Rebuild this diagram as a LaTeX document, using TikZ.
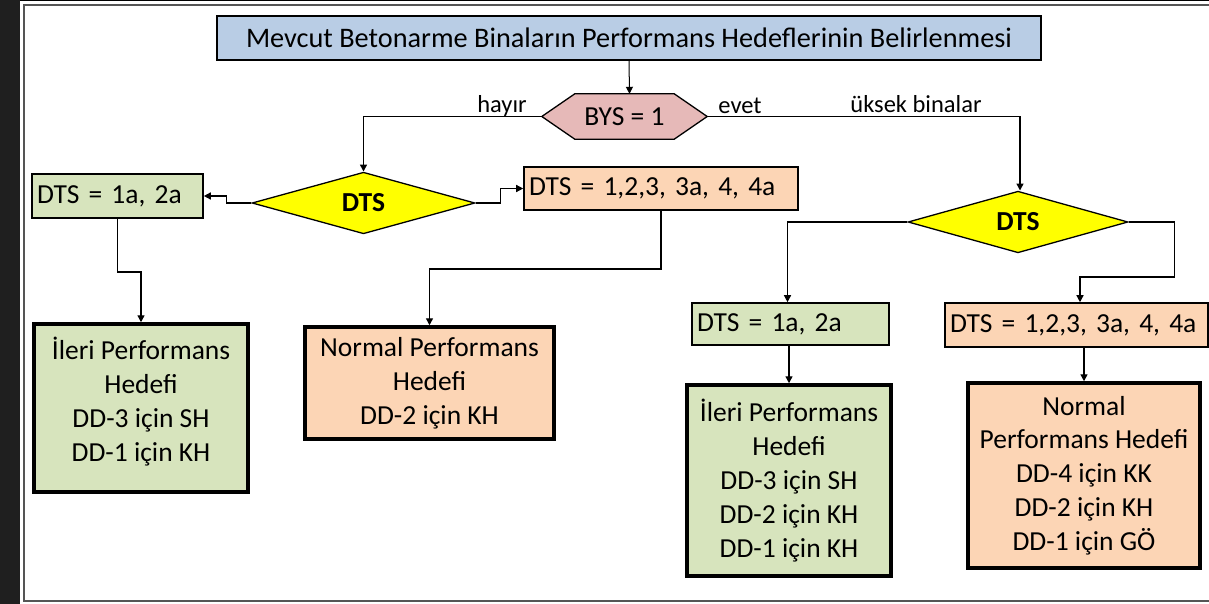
\documentclass[tikz,border=0pt]{standalone}
\usepackage{fontspec}
\setmainfont{Carlito}
\usetikzlibrary{arrows.meta,shapes.geometric,backgrounds}
\definecolor{tblue}{HTML}{B9CDE5}
\definecolor{bpink}{HTML}{E6B9B8}
\definecolor{dyellow}{HTML}{FFFF00}
\definecolor{lgreen}{HTML}{D7E4BD}
\definecolor{lorange}{HTML}{FCD5B5}
\definecolor{stripdark}{HTML}{1F1F1F}
\definecolor{framegray}{HTML}{555555}
\newcommand{\fsbox}{\fontsize{27.5}{33.8}\selectfont}
\newcommand{\fslbl}{\fontsize{24.5}{30}\selectfont}
\newcommand{\fstitle}{\fontsize{28.3}{33}\selectfont}
\tikzset{
  conn/.style={draw=black, line width=1.4pt, -{Triangle[length=7pt,width=7pt]}},
  smallbox/.style={draw=black, line width=1.6pt, inner xsep=5pt, inner ysep=0pt, align=left, font=\fsbox},
  bigbox/.style={draw=black, line width=3.5pt, inner sep=0pt, align=center, font=\fsbox},
  dia/.style={diamond, draw=black, line width=1.3pt, fill=dyellow, inner sep=0pt, font=\bfseries\fsbox},
  lbl/.style={inner sep=0pt, font=\fslbl},
}
\begin{document}
\begin{tikzpicture}[x=1pt,y=-1pt]
\useasboundingbox (0,0) rectangle (1209,604);
% screen frame
\fill[stripdark] (0,0) rectangle (20,604);
\draw[black, line width=1.5pt] (20,0.75) -- (1209,0.75);
\draw[framegray, line width=1.2pt] (1212,5) -- (24,5) -- (24,601) -- (1212,601);

% title
\node[draw=black, line width=2pt, fill=tblue, minimum width=824, minimum height=44, inner sep=0pt, font=\fstitle]
  (title) at (629,38) {Mevcut Betonarme Binaların Performans Hedeflerinin Belirlenmesi};

% BYS hexagon
\node[inner sep=0pt, minimum width=165, minimum height=45, font=\fsbox] (bys) at (624.5,116.5) {BYS = 1};
\begin{scope}[on background layer]
\draw[line width=1.3pt, fill=bpink] (bys.west) -- ([xshift=33pt]bys.north west) -- ([xshift=-33pt]bys.north east)
  -- (bys.east) -- ([xshift=-33pt]bys.south east) -- ([xshift=33pt]bys.south west) -- cycle;
\end{scope}

% labels
\node[lbl] (hayir) at (502,106) {hayır};
\node[lbl] (evet) at (740,106) {evet};
\node[lbl] (yuksek) at (916,104) {üksek binalar};

% diamonds
\node[dia, minimum width=223, minimum height=60] (dts1) at (363.5,203) {DTS};
\node[dia, minimum width=220, minimum height=59] (dts2) at (1018,222) {DTS};

% small boxes
\node[smallbox, fill=lgreen, text width=161, minimum height=44] (L1) at (117.5,196) {DTS = 1a, 2a};
\node[smallbox, fill=lorange, text width=264, minimum height=43] (M1) at (661,188.5) {DTS = 1,2,3, 3a, 4, 4a};
\node[smallbox, fill=lgreen, text width=187, minimum height=42] (R1) at (790.5,324) {DTS = 1a, 2a};
\node[smallbox, fill=lorange, text width=253, minimum height=44] (R2) at (1076.5,325) {DTS = 1,2,3, 3a, 4, 4a};

% big boxes
\node[bigbox, fill=lgreen, minimum width=214, minimum height=168] (B1) at (141,408)
  {İleri Performans\\Hedefi\\DD-3 için SH\\DD-1 için KH\\[-16pt]\mbox{}};
\node[bigbox, fill=lorange, minimum width=249, minimum height=112] (N1) at (429.5,383)
  {Normal Performans\\Hedefi\\DD-2 için KH};
\node[bigbox, fill=lgreen, minimum width=204, minimum height=191] (B2) at (789,480.5)
  {İleri Performans\\Hedefi\\DD-3 için SH\\DD-2 için KH\\DD-1 için KH};
\node[bigbox, fill=lorange, minimum width=232, minimum height=185] (N2) at (1084,475.5)
  {Normal\\Performans Hedefi\\DD-4 için KK\\DD-2 için KH\\DD-1 için GÖ};

% connectors
\draw[conn, line width=1pt] ([xshift=0pt]title.south) -- ([xshift=5pt]bys.north);
\draw[conn] (bys.west) -| (dts1.north);
\draw[conn] (bys.east) -| ([xshift=2pt]dts2.north);
\draw[conn] (dts1.west) -- ++(-25,0) |- (L1.east);
\draw[conn] (dts1.east) -- ++(25,0) |- (M1.west);
\draw[conn] (L1.south) -- ++(0,53) -| (B1.north);
\draw[conn] (M1.south) -- ++(0,58) -| (N1.north);
\draw[conn] (dts2.west) -| ([xshift=-3pt]R1.north);
\draw[conn] (dts2.east) -- ++(46,0) -- ++(0,55) -| ([xshift=3.5pt]R2.north);
\draw[conn] (B2.north |- R1.south) -- (B2.north);
\draw[conn] (N2.north |- R2.south) -- (N2.north);
\end{tikzpicture}
\end{document}
